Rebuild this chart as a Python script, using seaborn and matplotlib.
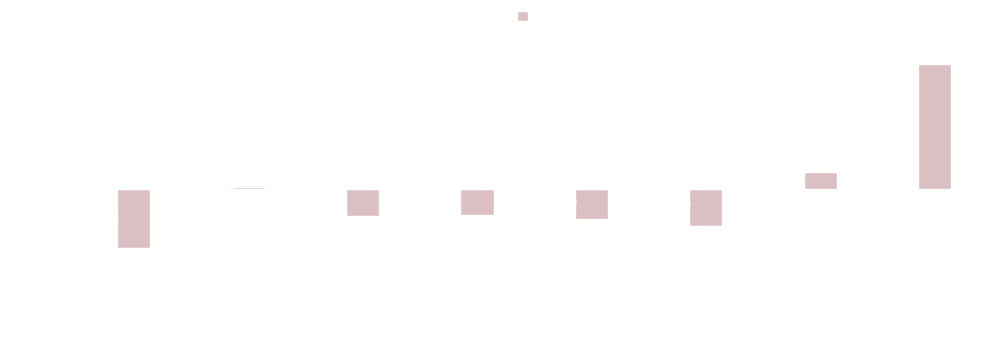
import pandas as pd
import seaborn as sns
import numpy as np
import matplotlib.pyplot as plt

# Chart values (percent change)
categories = ['Energy', 'Materials', 'Industrials', 'Consumer', 'Health Care',
              'Financials', 'Technology', 'Utilities']
series_names = ['Benchmark', 'Portfolio']
benchmark = [-6.9, -2.0, 1.5, 1.0, -2.8, -3.6, 3.8, 2.8]
portfolio = [-7.6, 0.2, -3.5, -3.4, -3.9, -4.7, 2.1, 16.0]
y_ticks = [-10, -5, 0, 5, 10, 15, 20]

df = pd.DataFrame({
    'category': categories * 2,
    'series': [series_names[0]] * len(categories) + [series_names[1]] * len(categories),
    'value': benchmark + portfolio,
})

sns.set_theme(style='white')
plt.rcParams['font.family'] = ['DejaVu Sans']
text_col = '#ffffff'

fig = plt.figure(figsize=(9.85, 3.63), dpi=100)
ax = fig.add_axes([0.061, 0.2215, 0.929, 0.71])

ax = sns.barplot(data=df, x='category', y='value', hue='series',
                 palette=['#ffffff', '#dfbbbf'], width=0.58, ax=ax)

# value labels, centred on the first series bars
ax.bar_label(ax.containers[0], labels=[f'{v:.1f}%' for v in benchmark],
             label_type='center', color=text_col, fontsize=9.5)

ax.set_ylim(-12, 21)
ax.set_yticks(y_ticks)
ax.set_yticklabels([f'{t}%' for t in y_ticks], color=text_col, fontsize=10)
ax.set_xticks(range(len(categories)))
ax.set_xticklabels(categories, rotation=30, ha='right', color=text_col, fontsize=10)
ax.set_xlabel('')
ax.set_ylabel('')
ax.tick_params(colors=text_col, length=0)
for s in ax.spines.values():
    s.set_visible(False)

handles, labels = ax.get_legend_handles_labels()
ax.get_legend().remove()
fig.legend(handles, labels, loc='center', bbox_to_anchor=(0.5, 1 - 17 / 363), ncol=2,
           frameon=False, handlelength=0.8, handleheight=0.8, fontsize=10,
           labelcolor=text_col)

plt.savefig('out.png', dpi=100)
